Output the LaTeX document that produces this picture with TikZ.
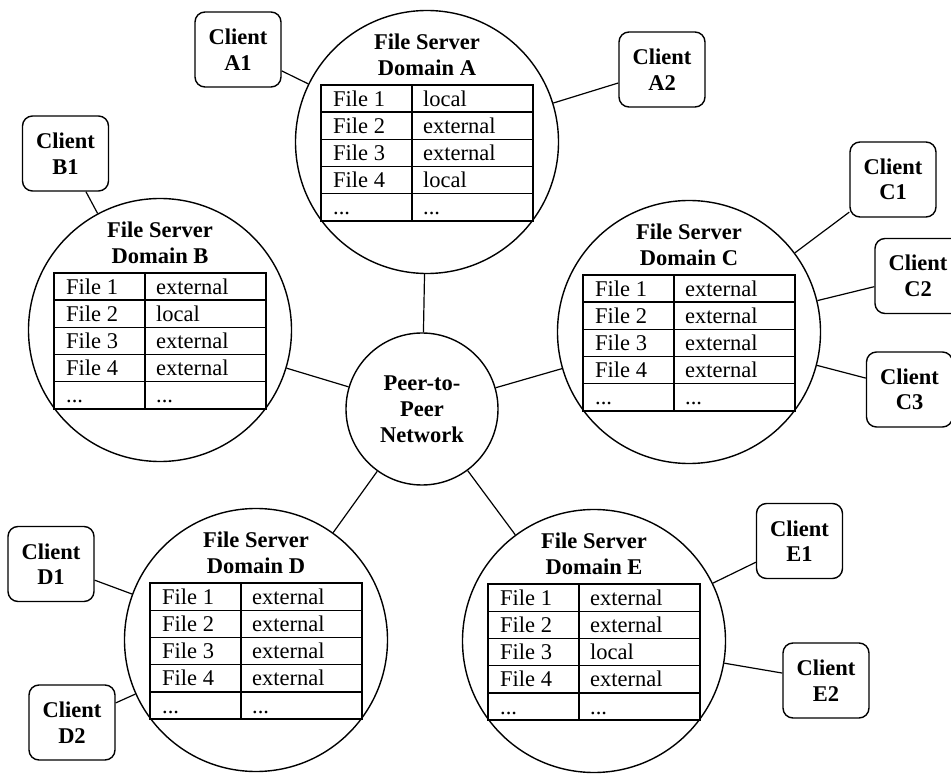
\documentclass[tikz,border=0pt]{standalone}
\usepackage{fontspec}
\setmainfont{Liberation Serif}
\usetikzlibrary{calc,positioning}

\newcommand{\bigtext}{\fontsize{22.5}{25.5}\selectfont}

% title and file table inside a server circle
\newcommand{\filetable}[6]{%
	\node[srvtitle] (#1t) at ($(#1)+(0,-87)$) {File Server\\Domain #2};
	\draw[tabline] ($(#1)+(-106,-57)$) rectangle ($(#1)+(106,79)$);
	\draw[tabline] ($(#1)+(-15,-57)$) -- ($(#1)+(-15,79)$);
	\foreach \r in {1,...,4}
		\draw[tabline] ($(#1)+(-106,-57+27.2*\r)$) -- ($(#1)+(106,-57+27.2*\r)$);
	\foreach \s [count=\r] in {#3,#4,#5,#6}{
		\node[filecell] (#1f\r) at ($(#1)+(-94,-63+27.2*\r)$) {File \r};
		\node[filecell] (#1s\r) at ($(#1)+(-4,-63+27.2*\r)$) {\s};
	}
	\node[filecell] (#1f5) at ($(#1)+(-94,-63+27.2*5)$) {...};
	\node[filecell] (#1s5) at ($(#1)+(-4,-63+27.2*5)$) {...};
}

\begin{document}
\begin{tikzpicture}[x=1pt,y=-1pt,
		server/.style={circle,draw,line width=1.4pt,minimum size=263pt,inner sep=0pt},
		peer/.style={circle,draw,line width=1.4pt,minimum size=152pt,inner sep=0pt,align=center,font=\bfseries\fontsize{22.5}{26}\selectfont},
		client/.style={draw,rounded corners=10pt,line width=1.4pt,minimum width=86pt,minimum height=75pt,inner sep=0pt,align=center,font=\bfseries\bigtext},
		srvtitle/.style={align=center,inner sep=0pt,font=\bfseries\bigtext},
		filecell/.style={anchor=base west,inner sep=0pt,font=\bigtext},
		tabline/.style={line width=1.4pt},
		wire/.style={line width=1.2pt}
	]
	\useasboundingbox (0,0) rectangle (951,775);

	\node[peer] (p2p) at (422,409) {Peer-to-\\Peer\\Network};

	\node[server] (srvA) at (427,142) {};
	\node[server] (srvB) at (160,330) {};
	\node[server] (srvC) at (689,332) {};
	\node[server] (srvD) at (256,640) {};
	\node[server] (srvE) at (594,641) {};

	\filetable{srvA}{A}{local}{external}{external}{local}
	\filetable{srvB}{B}{external}{local}{external}{external}
	\filetable{srvC}{C}{external}{external}{external}{external}
	\filetable{srvD}{D}{external}{external}{external}{external}
	\filetable{srvE}{E}{external}{external}{local}{external}

	\node[client] (cA1) at (238,49.5) {Client\\A1};
	\node[client] (cA2) at (662,69.5) {Client\\A2};
	\node[client] (cB1) at (65.5,153.5) {Client\\B1};
	\node[client] (cC1) at (893,179.5) {Client\\C1};
	\node[client] (cC2) at (918,276) {Client\\C2};
	\node[client] (cC3) at (909.5,389.5) {Client\\C3};
	\node[client] (cD1) at (51,564) {Client\\D1};
	\node[client] (cD2) at (72,722.5) {Client\\D2};
	\node[client] (cE1) at (799.5,541) {Client\\E1};
	\node[client] (cE2) at (826,680.5) {Client\\E2};

	\foreach \s in {srvA,srvB,srvC,srvD,srvE}
		\draw[wire] (p2p) -- (\s);

	\draw[wire] (cA1) -- (srvA);
	\draw[wire] (cA2) -- (srvA);
	\draw[wire] (cB1) -- (srvB);
	\draw[wire] (cC1) -- (srvC);
	\draw[wire] (cC2) -- (srvC);
	\draw[wire] (cC3) -- (srvC);
	\draw[wire] (cD1) -- (srvD);
	\draw[wire] (cD2) -- (srvD);
	\draw[wire] (cE1) -- (srvE);
	\draw[wire] (cE2) -- (srvE);

\end{tikzpicture}
\end{document}
